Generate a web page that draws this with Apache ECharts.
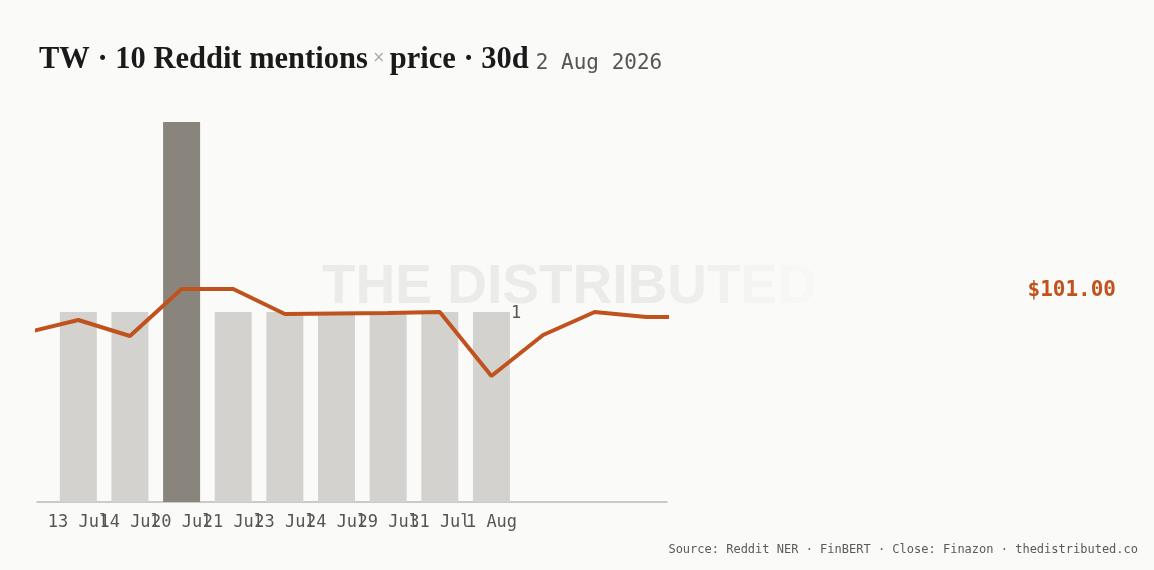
<!DOCTYPE html>
<html>
<head>
<meta charset="utf-8">
<script src="https://cdn.jsdelivr.net/npm/echarts@6/dist/echarts.min.js"></script>
<style>
html,body{margin:0;padding:0;background:#fafaf8;}
#chart{width:1154px;height:570px;}
</style>
</head>
<body>
<div id="chart"></div>
<script>
// Data
var categories = ['13 Jul', '14 Jul', '20 Jul', '21 Jul', '23 Jul', '24 Jul', '29 Jul', '31 Jul', '1 Aug'];
var mentions = [1, 1, 2, 1, 1, 1, 1, 1, 1];
var highlightIndex = 2;
// Close prices at day positions -1 .. 12 (ends are clipped by the plot)
var priceIndex = [-1, 0, 1, 2, 3, 4, 5, 6, 7, 8, 9, 10, 11, 12];
var prices = [100.38, 100.88, 100.24, 102.12, 102.12, 101.12, 101.14, 101.16, 101.20, 98.64, 100.28, 101.20, 101.00, 101.00];
var lastPriceLabel = '$101.00';

var MONO = '"DejaVu Sans Mono", "Liberation Mono", monospace';
var SERIF = '"Liberation Serif", "DejaVu Serif", serif';

var barData = mentions.map(function (v, i) {
  var item = {
    value: [i, v],
    itemStyle: { color: i === highlightIndex ? '#8a857c' : '#d3d2ce' }
  };
  if (i === mentions.length - 1) {
    item.label = {
      show: true,
      position: ['100%', 0],
      align: 'left',
      verticalAlign: 'middle',
      offset: [1, 2],
      formatter: String(v),
      fontFamily: MONO,
      fontSize: 17,
      color: '#555'
    };
  }
  return item;
});
var lineData = prices.map(function (p, k) { return [priceIndex[k], p]; });

// plot geometry: day 0 centred at x=78.5, 51.625 px per day
var step = 51.625;
var labelGridLeft = 78.5 - step / 2;
var labelGridWidth = step * categories.length;

var chart = echarts.init(document.getElementById('chart'));
chart.setOption({
  backgroundColor: '#fafaf8',
  animation: false,
  title: {
    left: 34,
    top: 31,
    text: '{a|TW · 10 Reddit mentions}{x| × }{a|price · 30d}{d|2 Aug 2026}',
    textStyle: {
      fontWeight: 'normal',
      rich: {
        a: { fontFamily: SERIF, fontWeight: 'bold', fontSize: 30.5, color: '#1a1a1a', lineHeight: 40, verticalAlign: 'bottom' },
        x: { fontFamily: '"DejaVu Sans", sans-serif', fontWeight: 'normal', fontSize: 15, color: '#aaaaaa', lineHeight: 40, verticalAlign: 'bottom', padding: [0, 0, 10, 0] },
        d: { fontFamily: MONO, fontWeight: 'normal', fontSize: 21, color: '#555555', lineHeight: 40, verticalAlign: 'bottom', padding: [0, 0, 2, 7] }
      }
    }
  },
  graphic: [
    {
      type: 'text',
      z: -10,
      left: 322,
      top: 260,
      style: {
        text: '{a|THE DISTRIB}{b|U}{c|T}{d|E}{e|D}',
        font: 'bold 55px "Liberation Sans", Arial, sans-serif',
        rich: {
          a: { font: 'bold 55px "Liberation Sans", Arial, sans-serif', fill: '#ebebea' },
          b: { font: 'bold 55px "Liberation Sans", Arial, sans-serif', fill: '#eeeeed' },
          c: { font: 'bold 55px "Liberation Sans", Arial, sans-serif', fill: '#f1f1f0' },
          d: { font: 'bold 55px "Liberation Sans", Arial, sans-serif', fill: '#f4f4f2' },
          e: { font: 'bold 55px "Liberation Sans", Arial, sans-serif', fill: '#f7f7f5' }
        }
      }
    },
    {
      type: 'text',
      right: 38,
      top: 280,
      style: {
        text: lastPriceLabel,
        font: 'bold 21px ' + MONO,
        fill: '#c0531d'
      }
    },
    {
      type: 'text',
      right: 16,
      top: 544,
      style: {
        text: 'Source: Reddit NER · FinBERT · Close: Finazon · thedistributed.co',
        font: '12px ' + MONO,
        fill: '#5a5a5a'
      }
    }
  ],
  grid: [
    { left: 37, right: 487, top: 122, bottom: 68 },
    { left: labelGridLeft, width: labelGridWidth, top: 122, bottom: 68 }
  ],
  xAxis: [
    {
      type: 'value',
      gridIndex: 0,
      min: -0.8,
      max: 11.4,
      splitLine: { show: false },
      axisLine: { show: true, onZero: false, lineStyle: { color: '#bbbbbb', width: 1.5 } },
      axisTick: { show: false },
      axisLabel: { show: false }
    },
    {
      type: 'category',
      gridIndex: 1,
      data: categories,
      boundaryGap: true,
      axisLine: { show: false },
      axisTick: { show: false },
      splitLine: { show: false },
      axisLabel: {
        interval: 0,
        hideOverlap: false,
        fontFamily: MONO,
        fontSize: 17,
        color: '#555555',
        margin: 12
      }
    }
  ],
  yAxis: [
    { type: 'value', gridIndex: 0, min: 0, max: 2, show: false, splitLine: { show: false } },
    { type: 'value', gridIndex: 0, min: 93.6, max: 108.8, show: false, splitLine: { show: false } },
    { type: 'value', gridIndex: 1, min: 0, max: 1, show: false, splitLine: { show: false } }
  ],
  series: [
    {
      type: 'bar',
      xAxisIndex: 0,
      yAxisIndex: 0,
      barWidth: 37,
      data: barData,
      z: 2
    },
    {
      type: 'line',
      xAxisIndex: 0,
      yAxisIndex: 1,
      data: lineData,
      symbol: 'none',
      clip: true,
      lineStyle: { color: '#c0531d', width: 4 },
      z: 3
    }
  ]
});
</script>
</body>
</html>
